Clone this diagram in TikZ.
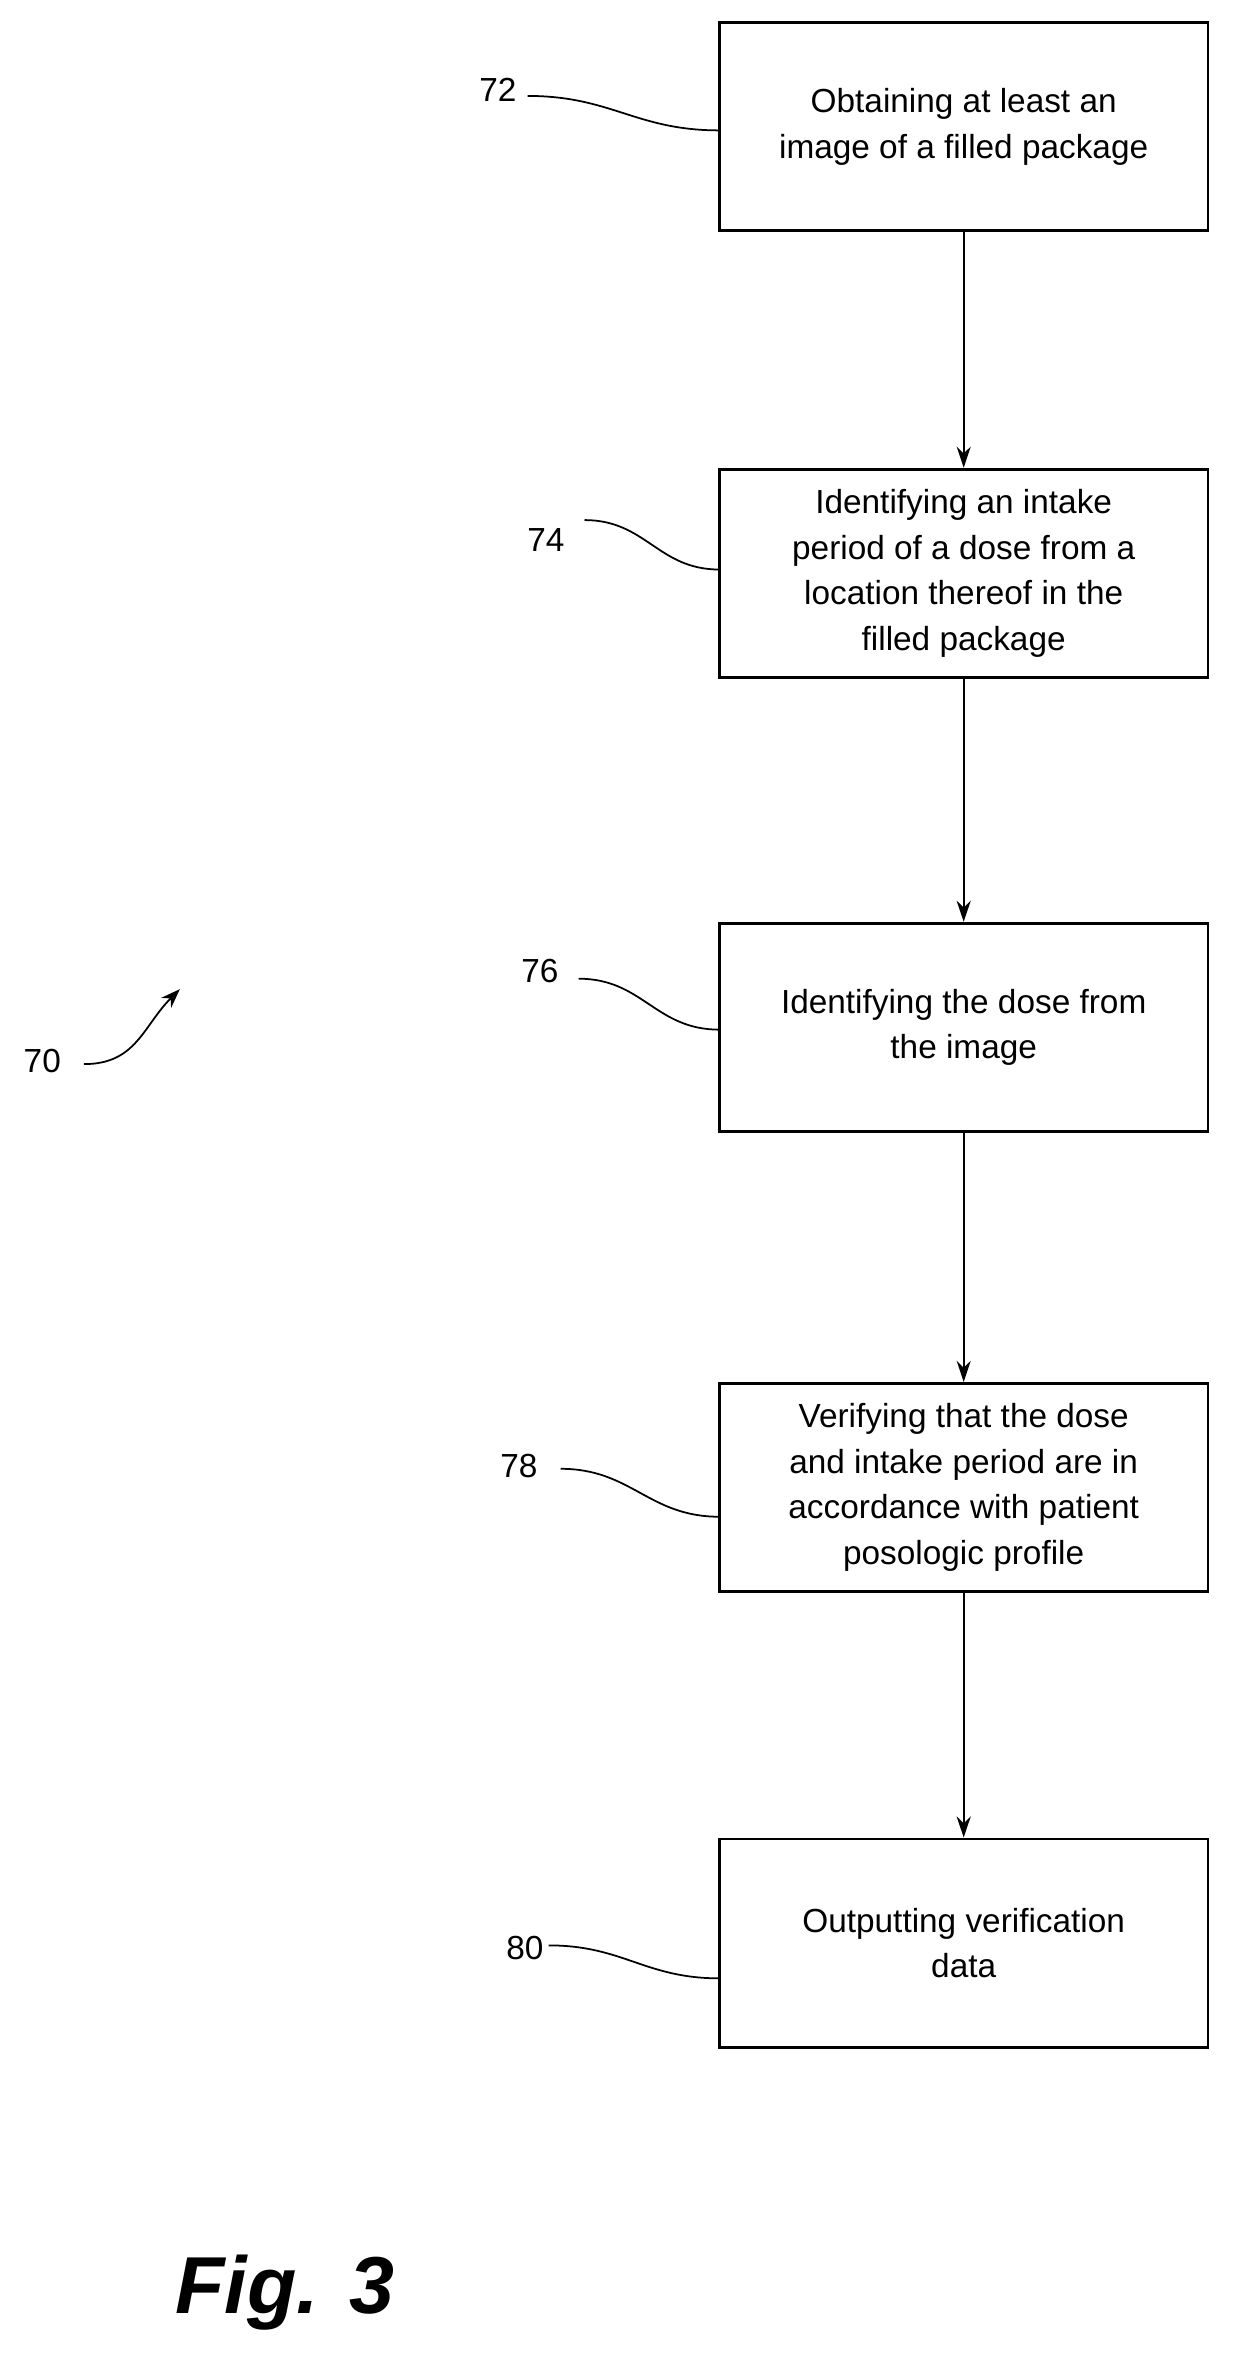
\documentclass[tikz,border=0pt]{standalone}
\usepackage{fontspec}
\setmainfont{Liberation Sans}
\usetikzlibrary{positioning,arrows.meta}
\begin{document}
\begin{tikzpicture}[x=0.03cm, y=-0.03cm,
  stage/.style={draw, line width=1.6pt, minimum width=9.78cm, minimum height=4.17cm, align=center, inner sep=0pt, font=\fontsize{19}{26}\selectfont},
  ref/.style={font=\fontsize{19}{22}\selectfont, inner sep=1pt},
  lead/.style={line width=1pt},
  flow/.style={line width=1.2pt, -{Stealth[length=12pt, width=8pt]}}]
\useasboundingbox (0,0) rectangle (830,1586);
\node[stage] (s72) at (643,84.5) {Obtaining at least an\\image of a filled package};
\node[stage] (s74) at (643,382.5) {Identifying an intake\\period of a dose from a\\location thereof in the\\filled package};
\node[stage] (s76) at (643,685.5) {Identifying the dose from\\the image};
\node[stage] (s78) at (643,992.5) {Verifying that the dose\\and intake period are in\\accordance with patient\\posologic profile};
\node[stage] (s80) at (643,1296.5) {Outputting verification\\data};
\draw[flow] (s72) -- (s74);
\draw[flow] (s74) -- (s76);
\draw[flow] (s76) -- (s78);
\draw[flow] (s78) -- (s80);
% reference numerals
\node[ref, anchor=east] (n72) at (346,60) {72};
\node[ref, anchor=east] (n74) at (378,360) {74};
\node[ref, anchor=east] (n76) at (374,648) {76};
\node[ref, anchor=east] (n78) at (360,978) {78};
\node[ref, anchor=east] (n80) at (364,1300) {80};
\node[ref, anchor=east] (n70) at (42,708) {70};
\coordinate (e72) at (480,87);
\coordinate (e74) at (480,380);
\coordinate (e76) at (480,687);
\coordinate (e78) at (480,1012);
\coordinate (e80) at (480,1320);
\draw[lead] (n72.east) ++(6,4) to[out=0, in=180, looseness=1.1] (e72);
\draw[lead] (n74.east) ++(12,-13) to[out=0, in=180, looseness=1.1] (e74);
\draw[lead] (n76.east) ++(12,5) to[out=0, in=180, looseness=1.1] (e76);
\draw[lead] (n78.east) ++(14,2) to[out=0, in=180, looseness=1.1] (e78);
\draw[lead] (n80.east) ++(2,-2) to[out=0, in=180, looseness=1.1] (e80);
\coordinate (a70) at (120,660);
\draw[lead, -{Stealth[length=11pt, width=8pt]}] (n70.east) ++(14,2) to[out=0, in=225, looseness=1.1] (a70);
\node[font=\fontsize{46}{50}\selectfont\bfseries\itshape] (fig) at (190,1530) {Fig. 3};
\end{tikzpicture}
\end{document}
